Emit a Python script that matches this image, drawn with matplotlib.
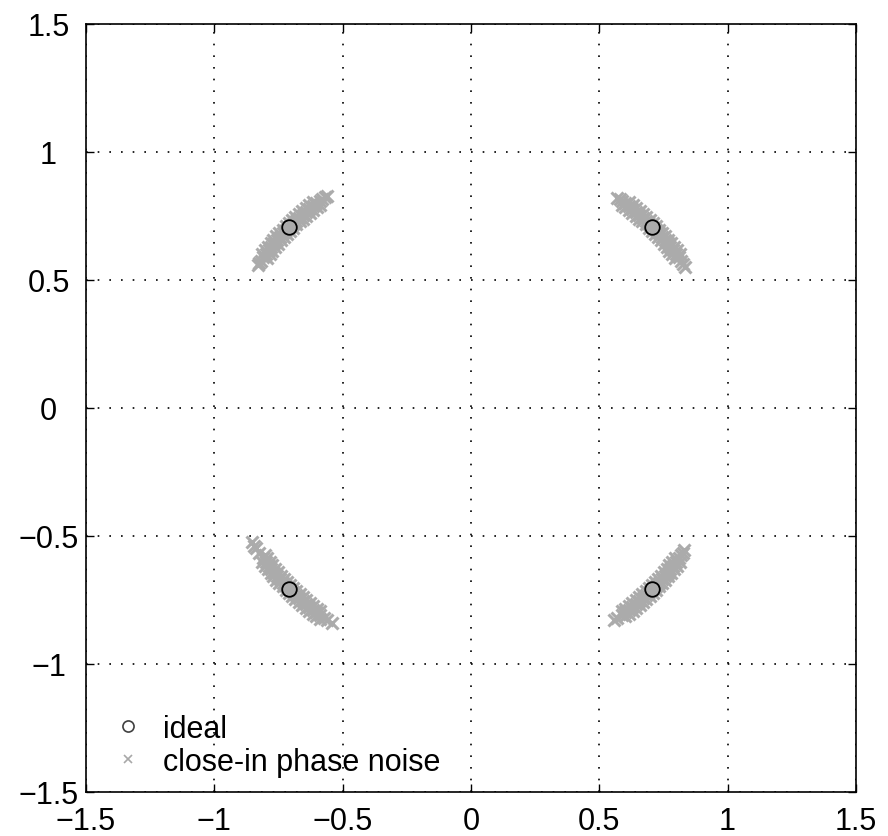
import matplotlib
matplotlib.use("Agg")
import matplotlib.pyplot as plt
import numpy as np

plt.rcParams['font.family'] = ['Liberation Sans', 'DejaVu Sans']

# ideal QPSK points
ideal_i = [0.7071, -0.7071, -0.7071, 0.7071]
ideal_q = [0.7071, 0.7071, -0.7071, -0.7071]

# magnitudes of the three rows seen across each noise band
mag_inner, mag_mid, mag_outer = 0.988, 1.0, 1.012

# phase errors (deg): middle row, inner row, outer row
tr_mid = [-11.5, -10.8, -10.0, -9.0, -8.0, -7.0, -6.0, -5.0, -4.0, -3.0, -2.0, -1.0, 0.0,
          1.0, 2.0, 3.0, 4.0, 5.0, 6.0, 7.0, 8.0, 9.0, 9.6, 10.2]
tr_in = [-8.5, -7.5, -6.5, -5.5, -4.5, -3.5, -2.5, -1.5, -0.5, 0.5, 1.5, 2.5, 3.5, 4.5, 5.5, 6.5, 7.5, 8.5]
tr_out = [-8.5, -7.5, -6.5, -5.5, -4.5, -3.5, -2.5, -1.5, -0.5, 0.5, 1.5, 2.5, 3.5, 4.5, 5.5, 6.5, 7.5]

tl_mid = [-11.0, -10.4, -9.6, -9.0, -8.0, -7.0, -6.0, -5.0, -4.0, -3.0, -2.0, -1.0, 0.0,
          1.0, 2.0, 3.0, 4.0, 5.0, 6.0, 7.0, 8.0, 9.0, 10.0, 10.6, 11.0]
tl_in = [-8.5, -7.5, -6.5, -5.5, -4.5, -3.5, -2.5, -1.5, -0.5, 0.5, 1.5, 2.5, 3.5, 4.5, 5.5, 6.5, 7.5, 8.5]
tl_out = [-7.5, -6.5, -5.5, -4.5, -3.5, -2.5, -1.5, -0.5, 0.5, 1.5, 2.5, 3.5, 4.5, 5.5, 6.5, 7.5, 8.5]

bl_mid = [-13.5, -12.5, -11.8, -10.5, -9.0, -8.0, -7.0, -6.0, -5.0, -4.0, -3.0, -2.0, -1.0, 0.0,
          1.0, 2.0, 3.0, 4.0, 5.0, 6.0, 7.0, 8.0, 9.0, 10.0, 11.0, 12.3]
bl_in = [-9.5, -8.5, -7.5, -6.5, -5.5, -4.5, -3.5, -2.5, -1.5, -0.5, 0.5, 1.5, 2.5, 3.5, 4.5, 5.5, 6.5, 7.5, 8.5]
bl_out = [-8.5, -7.5, -6.5, -5.5, -4.5, -3.5, -2.5, -1.5, -0.5, 0.5, 1.5, 2.5, 3.5, 4.5, 5.5, 6.5, 7.5, 8.5, 9.5]

br_mid = [-11.0, -10.2, -9.0, -8.0, -7.0, -6.0, -5.0, -4.0, -3.0, -2.0, -1.0, 0.0,
          1.0, 2.0, 3.0, 4.0, 5.0, 6.0, 7.0, 8.0, 9.0, 10.0, 10.6, 11.2]
br_in = [-8.5, -7.5, -6.5, -5.5, -4.5, -3.5, -2.5, -1.5, -0.5, 0.5, 1.5, 2.5, 3.5, 4.5, 5.5, 6.5, 7.5, 8.5]
br_out = [-8.5, -7.5, -6.5, -5.5, -4.5, -3.5, -2.5, -1.5, -0.5, 0.5, 1.5, 2.5, 3.5, 4.5, 5.5, 6.5, 7.5, 8.5]

ticks = [-1.5, -1, -0.5, 0, 0.5, 1, 1.5]
tick_labels = ['\u22121.5', '\u22121', '\u22120.5', '0', '0.5', '1', '1.5']

fig = plt.figure(figsize=(8.88, 8.37), dpi=100)
ax = fig.add_axes([0.0968, 0.0526, 0.8671, 0.9176])

clusters = [(45, tr_mid, tr_in, tr_out), (135, tl_mid, tl_in, tl_out),
            (225, bl_mid, bl_in, bl_out), (315, br_mid, br_in, br_out)]
for base, mid, inner, outer in clusters:
    for ph, mg in [(inner, mag_inner), (outer, mag_outer), (mid, mag_mid)]:
        ang = np.deg2rad(base + np.array(ph))
        ax.plot(mg * np.cos(ang), mg * np.sin(ang), 'x', color='0.67',
                ms=8, mew=2.2, zorder=2)

ax.plot(ideal_i, ideal_q, 'o', mfc='none', mec='black', ms=10.5, mew=1.3, zorder=3)

# legend handles (small markers like the original)
h1, = ax.plot([], [], 'o', mfc='none', mec='0.25', ms=8, mew=1.2)
h2, = ax.plot([], [], 'x', color='0.66', ms=6, mew=1.2)
ax.legend([h1, h2], ['ideal', 'close-in phase noise'], loc='lower left',
          frameon=False, fontsize=22, handlelength=1.0, handletextpad=0.65,
          labelspacing=0.1, borderaxespad=0, bbox_to_anchor=(0.019, 0.004))

ax.set_xlim(-1.5, 1.5)
ax.set_ylim(-1.5, 1.5)
ax.set_xticks(ticks)
ax.set_yticks(ticks)
ax.set_xticklabels(tick_labels)
ax.set_yticklabels(tick_labels, ha='center')
ax.grid(True, color='black', linestyle=(0, (1, 6)), linewidth=1.2)
ax.tick_params(direction='in', length=6, width=1, labelsize=22, top=True, right=True)
ax.tick_params(axis='x', pad=10)
ax.tick_params(axis='y', pad=27)
for s in ax.spines.values():
    s.set_linewidth(1.2)

fig.savefig('out.png', dpi=100)
